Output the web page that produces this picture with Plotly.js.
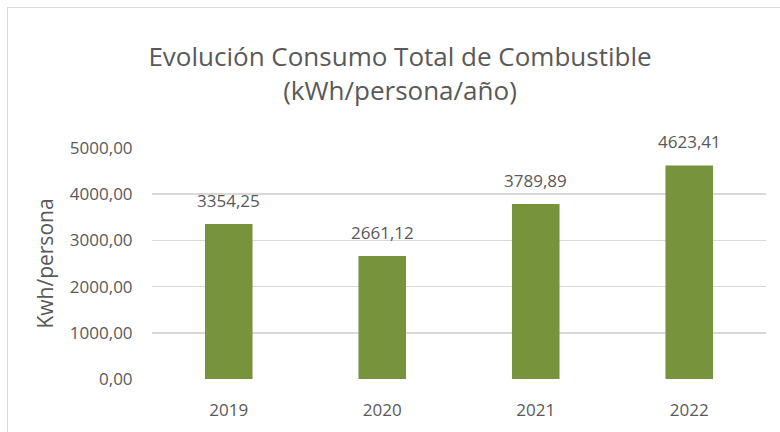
<!DOCTYPE html>
<html>
<head>
<meta charset="utf-8">
<script src="https://cdn.plot.ly/plotly-3.0.1.min.js"></script>
<style>
  html, body { margin: 0; padding: 0; background: #fff; }
  #wrap { position: relative; width: 780px; height: 432px; overflow: hidden; }
  #chart { position: absolute; left: 0; top: 0; width: 780px; height: 432px; }
  #frame { position: absolute; left: 7px; top: 7px; width: 800px; height: 500px;
           border-left: 1.5px solid #d9d9d9; border-top: 1.5px solid #d9d9d9; pointer-events: none; }
</style>
</head>
<body>
<div id="wrap">
  <div id="chart"></div>
  <div id="frame"></div>
</div>
<script>
const years = ['2019', '2020', '2021', '2022'];
const consumo = [3354.25, 2661.12, 3789.89, 4623.41];
const labels = ['3354,25', '2661,12', '3789,89', '4623,41'];
const yTicks = [0, 1000, 2000, 3000, 4000, 5000];
const yTickText = ['0,00', '1000,00', '2000,00', '3000,00', '4000,00', '5000,00'];

const FONT = 'Open Sans, sans-serif';
const GREY = '#595959';

const trace = {
  type: 'bar',
  x: years,
  y: consumo,
  text: labels,
  textposition: 'none',
  marker: { color: '#77933C' },
  hoverinfo: 'skip'
};

const annotations = years.map((yr, i) => ({
  x: i, y: consumo[i], xref: 'x', yref: 'y',
  text: labels[i], showarrow: false,
  yanchor: 'bottom', yshift: 10,
  font: { family: FONT, size: 17, color: GREY }
}));

const layout = {
  width: 780, height: 432,
  paper_bgcolor: '#ffffff', plot_bgcolor: '#ffffff',
  margin: { l: 152, r: 14, t: 148, b: 53 },
  bargap: 0.69,
  showlegend: false,
  title: {
    text: 'Evolución Consumo Total de Combustible<br>(kWh/persona/año)',
    x: 400 / 780, xanchor: 'center', xref: 'container',
    y: 1 - 66 / 432, yanchor: 'top', yref: 'container',
    font: { family: FONT, size: 26, color: GREY }
  },
  xaxis: {
    type: 'category',
    tickfont: { family: FONT, size: 17, color: GREY },
    ticks: 'outside', ticklen: 16, tickcolor: 'rgba(0,0,0,0)',
    showline: false, showgrid: false, zeroline: false
  },
  yaxis: {
    range: [0, 5000],
    tickvals: yTicks, ticktext: yTickText,
    tickfont: { family: FONT, size: 17, color: GREY },
    ticks: 'outside', ticklen: 15, tickcolor: 'rgba(0,0,0,0)',
    gridcolor: '#d9d9d9', gridwidth: 1.5,
    zeroline: false, showline: false,
    title: { text: 'Kwh/persona', font: { family: FONT, size: 21, color: GREY }, standoff: 10 }
  },
  annotations: annotations
};

Plotly.newPlot('chart', [trace], layout, { displayModeBar: false, staticPlot: true });
</script>
</body>
</html>
